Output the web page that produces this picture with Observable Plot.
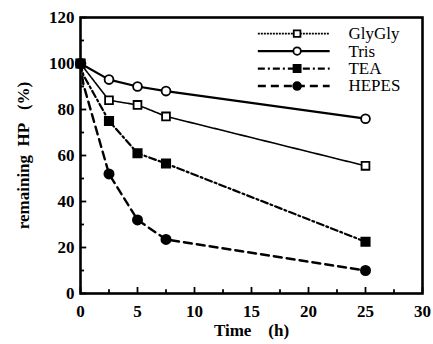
<!DOCTYPE html>
<html>
<head>
<meta charset="utf-8">
<script src="https://cdn.jsdelivr.net/npm/d3@7"></script>
<script src="https://cdn.jsdelivr.net/npm/@observablehq/plot@0.6"></script>
<style>
  html, body { margin: 0; padding: 0; background: #fff; }
</style>
</head>
<body>
<div id="chart"></div>
<script>
const seriesNames = ["GlyGly", "Tris", "TEA", "HEPES"];
const glyglyTime = [0, 2.5, 5, 7.5, 25];
const glyglyValues = [100, 84, 82, 77, 55.5];
const trisTime = [0, 2.5, 5, 7.5, 25];
const trisValues = [100, 93, 90, 88, 76];
const teaTime = [0, 0.25, 2.5, 5, 7.5, 25];
const teaValues = [100, 95, 75, 61, 56.5, 22.5];
const hepesTime = [0, 0.25, 2.5, 5, 7.5, 25];
const hepesValues = [100, 91, 52, 32, 23.5, 10];
const xTicks = [0, 5, 10, 15, 20, 25, 30];
const xMinorTicks = [2.5, 7.5, 12.5, 17.5, 22.5, 27.5];
const yTicks = [0, 20, 40, 60, 80, 100, 120];
const yMinorTicks = [10, 30, 50, 70, 90, 110];

const styles = {
  GlyGly: {dash: "5,1", width: 1.6, symbol: "square", fill: "white", r: 4.4},
  Tris: {dash: null, width: 2.2, symbol: "circle", fill: "white", r: 4.4},
  TEA: {dash: "7,3,2,3", width: 2.2, symbol: "square", fill: "black", r: 4.7},
  HEPES: {dash: "8,5", width: 2.4, symbol: "circle", fill: "black", r: 4.6}
};
const times = {GlyGly: glyglyTime, Tris: trisTime, TEA: teaTime, HEPES: hepesTime};
const values = {GlyGly: glyglyValues, Tris: trisValues, TEA: teaValues, HEPES: hepesValues};
const serif = "'Liberation Serif', 'DejaVu Serif', serif";

const marks = [];
for (const s of seriesNames) {
  const data = times[s].map((t, i) => ({t, v: values[s][i]}));
  const st = styles[s];
  marks.push(Plot.line(data, {x: "t", y: "v", stroke: "black", strokeWidth: st.width, strokeDasharray: st.dash}));
}
for (const s of seriesNames) {
  const data = times[s].map((t, i) => ({t, v: values[s][i]})).filter(d => !(d.t === 0.25));
  const st = styles[s];
  marks.push(Plot.dot(data, {x: "t", y: "v", symbol: st.symbol, r: st.r, fill: st.fill, stroke: "black", strokeWidth: 1.8}));
}

// legend (in data units inside the frame)
const legend = seriesNames.map((s, i) => ({s, y: 113 - i * 7.6}));
for (const d of legend) {
  const st = styles[d.s];
  marks.push(Plot.ruleY([d], {y: "y", x1: 15.6, x2: 21.9, stroke: "black", strokeWidth: st.width, strokeDasharray: d.s === "GlyGly" ? "2,1" : st.dash}));
  marks.push(Plot.dot([d], {x: () => 19, y: "y", symbol: st.symbol, r: st.r * 0.85, fill: st.fill, stroke: "black", strokeWidth: 1.8}));
}
marks.push(Plot.text(legend, {x: () => 23.5, y: "y", text: "s", textAnchor: "start", fontSize: 17, fontFamily: serif, fontWeight: "normal", fill: "black"}));

// inward ticks
marks.push(Plot.ruleX(xTicks, {x: d => d, y1: 0, y2: 2.6, stroke: "black", strokeWidth: 1.8}));
marks.push(Plot.ruleX(xMinorTicks, {x: d => d, y1: 0, y2: 1.6, stroke: "black", strokeWidth: 1.8}));
marks.push(Plot.ruleY(yTicks, {y: d => d, x1: 0, x2: 0.55, stroke: "black", strokeWidth: 1.8}));
marks.push(Plot.ruleY(yMinorTicks, {y: d => d, x1: 0, x2: 0.35, stroke: "black", strokeWidth: 1.8}));

marks.push(Plot.frame({stroke: "black", strokeWidth: 2.6}));
marks.push(Plot.axisX(xTicks, {tickSize: 0, tickPadding: 11, fontSize: 17, fontWeight: "bold", fontFamily: serif,
  label: "Time\u00a0\u00a0\u00a0\u00a0(h)", labelAnchor: "center", labelOffset: 42, labelArrow: "none"}));
marks.push(Plot.axisY(yTicks, {tickSize: 0, tickPadding: 6, fontSize: 17, fontWeight: "bold", fontFamily: serif,
  label: "remaining\u00a0\u00a0HP\u00a0\u00a0\u00a0(%)", labelAnchor: "center", labelOffset: 64, labelArrow: "none"}));

const chart = Plot.plot({
  width: 433,
  height: 344,
  marginLeft: 80,
  marginRight: 11,
  marginTop: 17,
  marginBottom: 51,
  x: {domain: [0, 30]},
  y: {domain: [0, 120]},
  style: {fontFamily: serif, fontSize: "17px", fontWeight: "bold", background: "white", color: "black"},
  marks
});
document.getElementById("chart").appendChild(chart);
</script>
</body>
</html>
